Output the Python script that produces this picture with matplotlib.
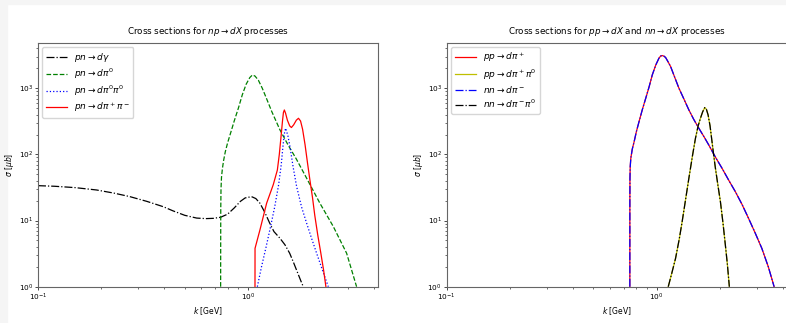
import numpy as np
import matplotlib.pyplot as plt
from matplotlib.patches import Rectangle

# data (k in GeV, sigma in micro-barn)
k_dgamma = [0.100, 0.120, 0.150, 0.190, 0.230, 0.274, 0.330, 0.395, 0.440, 0.500, 0.570,
            0.630, 0.684, 0.740, 0.800, 0.860, 0.920, 0.970, 1.040, 1.090, 1.140, 1.200,
            1.270, 1.330, 1.420, 1.500, 1.580, 1.650, 1.720, 1.790, 1.834]
s_dgamma = [33.7, 33.0, 31.5, 29.0, 26.0, 23.0, 19.5, 16.2, 14.0, 12.0, 10.9,
            10.7, 10.8, 11.2, 12.5, 15.5, 19.5, 22.0, 23.0, 21.5, 18.3, 13.5,
            9.1, 6.8, 5.4, 4.3, 3.2, 2.3, 1.65, 1.2, 1.0]

k_dpi0 = [0.741, 0.7415, 0.742, 0.744, 0.748, 0.755, 0.765, 0.780, 0.800, 0.830, 0.860,
          0.900, 0.940, 0.980, 1.020, 1.050, 1.080, 1.120, 1.170, 1.230, 1.300, 1.420,
          1.550, 1.700, 1.900, 2.200, 2.550, 2.950, 3.290]
s_dpi0 = [1.0, 5.0, 15.0, 30.0, 45.0, 60.0, 80.0, 110.0, 150.0, 220.0, 320.0,
          500.0, 800.0, 1150.0, 1450.0, 1590.0, 1530.0, 1330.0, 1000.0, 680.0, 440.0, 235.0,
          140.0, 85.0, 44.0, 18.3, 8.1, 3.2, 1.0]

k_dpi0pi0 = [1.108, 1.160, 1.220, 1.280, 1.340, 1.400, 1.440, 1.470, 1.495, 1.512, 1.550,
             1.585, 1.640, 1.705, 1.800, 1.903, 2.000, 2.123, 2.260, 2.413]
s_dpi0pi0 = [1.0, 2.0, 4.0, 8.0, 16.0, 35.0, 70.0, 140.0, 220.0, 249.0, 190.0,
             131.0, 65.0, 32.6, 16.0, 9.1, 5.6, 3.2, 1.8, 1.0]

k_dpipm = [1.080, 1.0805, 1.140, 1.227, 1.320, 1.380, 1.410, 1.440, 1.460, 1.475, 1.490,
           1.510, 1.540, 1.580, 1.610, 1.650, 1.700, 1.740, 1.780, 1.820, 1.870, 1.920,
           1.970, 2.030, 2.080, 2.150, 2.220, 2.290, 2.350]
s_dpipm = [1.0, 3.8, 7.2, 18.3, 35.0, 58.0, 100.0, 200.0, 320.0, 430.0, 470.0,
           420.0, 330.0, 270.0, 255.0, 280.0, 330.0, 352.0, 320.0, 240.0, 140.0, 75.0,
           42.0, 22.0, 12.0, 6.0, 3.3, 1.8, 1.0]

k_pp_dpi = [0.745, 0.7452, 0.746, 0.748, 0.753, 0.765, 0.781, 0.800, 0.824, 0.855, 0.887,
            0.920, 0.953, 0.990, 1.025, 1.045, 1.063, 1.085, 1.103, 1.130, 1.165, 1.220,
            1.276, 1.350, 1.423, 1.500, 1.587, 1.680, 1.770, 1.900, 2.047, 2.200, 2.368,
            2.550, 2.738, 2.950, 3.166, 3.400, 3.624]
s_pp_dpi = [1.0, 20.0, 43.6, 65.0, 87.6, 120.0, 156.0, 220.0, 313.0, 480.0, 708.0,
            1050.0, 1595.0, 2250.0, 2850.0, 3080.0, 3125.0, 3050.0, 2915.0, 2550.0, 2130.0, 1450.0,
            1003.0, 680.0, 471.0, 340.0, 249.0, 185.0, 139.0, 92.0, 61.8, 41.0, 27.4,
            17.5, 10.8, 6.4, 3.81, 2.0, 1.0]

k_pp_dpipi = [1.135, 1.180, 1.230, 1.280, 1.322, 1.370, 1.423, 1.480, 1.530, 1.575, 1.616,
              1.655, 1.694, 1.725, 1.757, 1.795, 1.834, 1.870, 1.904, 1.960, 2.011, 2.070,
              2.123, 2.170, 2.218]
s_pp_dpipi = [1.0, 1.6, 2.69, 5.2, 9.63, 20.0, 43.6, 95.0, 176.0, 270.0, 353.0,
              440.0, 511.0, 480.0, 396.0, 270.0, 156.0, 95.0, 61.8, 33.0, 19.3, 9.0,
              4.27, 2.2, 1.0]

# nn channels coincide with the pp ones in the picture
k_nn_dpi, s_nn_dpi = k_pp_dpi, s_pp_dpi
k_nn_dpipi, s_nn_dpipi = k_pp_dpipi, s_pp_dpipi

fig = plt.figure(figsize=(7.86, 3.23), dpi=100)
fig.patches.append(Rectangle((0, 0), 7 / 786, 1, transform=fig.transFigure,
                             color='#f5f5f5', zorder=-1))
fig.patches.append(Rectangle((0, 1 - 4 / 323), 1, 4 / 323, transform=fig.transFigure,
                             color='#f5f5f5', zorder=-1))

ax1 = fig.add_axes([0.0483, 0.1124, 0.4326, 0.7556])
ax2 = fig.add_axes([0.5683, 0.1124, 0.4326, 0.7556])

lw = 0.9
ax1.plot(k_dgamma, s_dgamma, 'k-.', lw=lw, label=r'$pn\rightarrow d\gamma$')
ax1.plot(k_dpi0, s_dpi0, 'g--', lw=lw, label=r'$pn\rightarrow d\pi^0$')
ax1.plot(k_dpi0pi0, s_dpi0pi0, 'b:', lw=lw, label=r'$pn\rightarrow d\pi^0\pi^0$')
ax1.plot(k_dpipm, s_dpipm, 'r-', lw=lw, label=r'$pn\rightarrow d\pi^+\pi^-$')
ax1.set_title(r'Cross sections for $np\rightarrow dX$ processes', fontsize=6.3)

ax2.plot(k_pp_dpi, s_pp_dpi, 'r-', lw=lw, label=r'$pp\rightarrow d\pi^+$')
ax2.plot(k_pp_dpipi, s_pp_dpipi, 'y-', lw=lw, label=r'$pp\rightarrow d\pi^+\pi^0$')
ax2.plot(k_nn_dpi, s_nn_dpi, 'b-.', lw=lw, label=r'$nn\rightarrow d\pi^-$')
ax2.plot(k_nn_dpipi, s_nn_dpipi, 'k-.', lw=lw, label=r'$nn\rightarrow d\pi^-\pi^0$')
ax2.set_title(r'Cross sections for $pp\rightarrow dX$ and $nn\rightarrow dX$ processes',
              fontsize=6.3)

for ax in (ax1, ax2):
    ax.set_xscale('log')
    ax.set_yscale('log')
    ax.set_xlim(0.1, 4.16)
    ax.set_ylim(1, 4900)
    ax.set_xlabel(r'$k$ [GeV]', fontsize=5.5, labelpad=2)
    ax.set_ylabel(r'$\sigma$ [$\mu b$]', fontsize=5.5, labelpad=2)
    ax.tick_params(labelsize=5.3, length=2, width=0.5, pad=1.5)
    ax.tick_params(which='minor', length=1.2, width=0.4)
    for sp in ax.spines.values():
        sp.set_linewidth(0.8)
        sp.set_color('#666666')
    ax.legend(loc='upper left', fontsize=6.5, handlelength=2.3, borderpad=0.4,
              labelspacing=0.3, handletextpad=0.8, framealpha=0.8)

fig.savefig('out.png', dpi=100)
